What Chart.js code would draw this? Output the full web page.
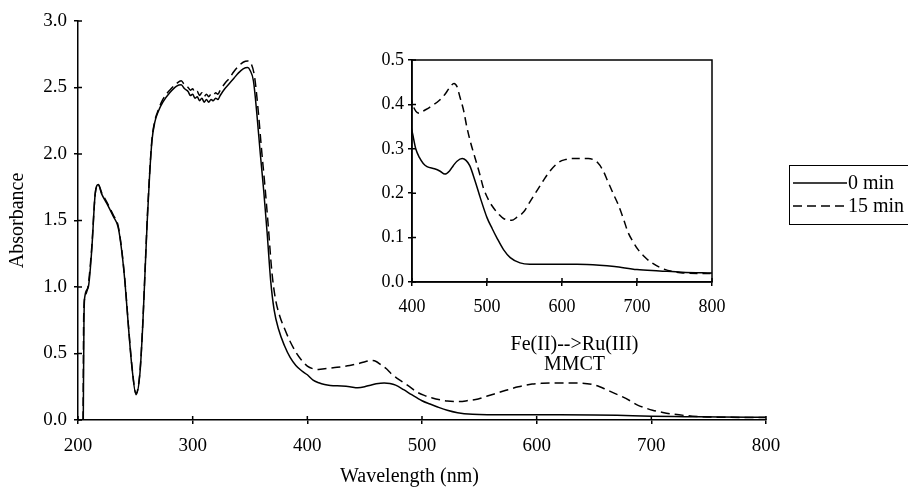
<!DOCTYPE html>
<html>
<head>
<meta charset="utf-8">
<script src="https://cdn.jsdelivr.net/npm/chart.js@4"></script>
<style>
  html, body { margin: 0; padding: 0; background: #fff; overflow: hidden; }
  body { width: 908px; height: 489px; position: relative; font-family: "Liberation Serif", serif; }
  #main { position: absolute; left: 0; top: 0; }
  #inset { position: absolute; left: 330px; top: 40px; }
  #legend { position: absolute; left: 789px; top: 165px; width: 130px; height: 60px; border: 1.5px solid #000; box-sizing: border-box; }
  #legend .row { position: absolute; left: 3px; height: 23px; display: flex; align-items: center; font-size: 20px; color: #000; }
  #legend svg { margin-right: 1px; }
</style>
</head>
<body>
<canvas id="main" width="908" height="489"></canvas>
<canvas id="inset" width="420" height="300"></canvas>
<div id="legend">
  <div class="row" style="top:5px"><svg width="54" height="4"><line x1="0" y1="2" x2="54" y2="2" stroke="#000" stroke-width="1.5"/></svg><span>0 min</span></div>
  <div class="row" style="top:28px"><svg width="54" height="4"><line x1="0" y1="2" x2="54" y2="2" stroke="#000" stroke-width="1.5" stroke-dasharray="9,5"/></svg><span>15 min</span></div>
</div>
<script>
// 0 min spectrum
const wl0 = [204.6,205.2,206,209,212,215,217.7,220.6,225,230.8,235,238,241,244,247,250.6,254,256.4,258.4,260.4,262.5,264.5,267,270,274,280,286,290,293,296,298,300,302,304,306,308,310,312,314,316,318,320,322,324,328,332,336,340,344,348,350,353,356,359,362,365,368,371,375,380,385,390,395,400,405,410,415,420,430,437,444,450,455,460,467,472,477,484,491,500,507,513,522,531,544,557,580,620,650,670,700,730,760,800];
const abs0 = [0,0.75,0.93,1.0,1.28,1.70,1.77,1.70,1.63,1.53,1.45,1.28,1.03,0.70,0.40,0.19,0.35,0.70,1.10,1.50,1.85,2.10,2.24,2.32,2.39,2.46,2.51,2.52,2.49,2.47,2.44,2.45,2.42,2.43,2.40,2.42,2.39,2.41,2.39,2.41,2.40,2.42,2.41,2.44,2.49,2.53,2.57,2.61,2.64,2.65,2.63,2.55,2.30,2.00,1.72,1.40,1.05,0.83,0.68,0.56,0.47,0.41,0.37,0.34,0.30,0.28,0.267,0.26,0.255,0.25,0.243,0.25,0.262,0.272,0.278,0.274,0.262,0.228,0.19,0.145,0.12,0.10,0.073,0.055,0.043,0.04,0.04,0.04,0.038,0.035,0.028,0.025,0.022,0.02];

// 15 min spectrum
const wl15 = [204.4,205,206,209,212,215,217.7,220.6,225,230.8,235,238,241,244,247,250.6,254,256.4,258.4,260.4,262.5,264.5,267,270,274,280,286,290,293,296,298,300,302,304,306,308,310,312,314,316,318,320,322,324,328,332,336,340,344,348,351,354,357,360,363,366,369,372,376,380,385,390,395,400,405,410,415,424,437,445,451,456,460,464,469,473,478,484,490,495,502,509,516,522,533,540,549,557,566,575,584,596,605,613,635,648,655,661,668,675,682,688,695,701,710,719,736,758,800];
const abs15 = [0,0.80,0.92,1.02,1.30,1.70,1.77,1.71,1.64,1.54,1.46,1.29,1.04,0.71,0.41,0.20,0.36,0.71,1.11,1.52,1.86,2.11,2.25,2.33,2.41,2.48,2.53,2.55,2.52,2.50,2.48,2.49,2.46,2.47,2.44,2.46,2.43,2.45,2.43,2.45,2.44,2.46,2.45,2.48,2.53,2.57,2.62,2.66,2.69,2.70,2.68,2.58,2.34,2.04,1.76,1.45,1.12,0.92,0.78,0.69,0.59,0.51,0.45,0.405,0.385,0.38,0.385,0.394,0.41,0.425,0.44,0.447,0.44,0.416,0.385,0.35,0.315,0.28,0.245,0.213,0.185,0.166,0.152,0.143,0.139,0.146,0.158,0.18,0.204,0.228,0.25,0.27,0.276,0.278,0.278,0.268,0.25,0.227,0.20,0.174,0.142,0.112,0.09,0.074,0.057,0.044,0.029,0.021,0.019];

const seriesNames = ['0 min', '15 min'];
const noteLines = ['Fe(II)-->Ru(III)', 'MMCT'];

const FONT = '"Liberation Serif", serif';

function pts(xs, ys) {
    return xs.map((x, i) => ({x: x, y: ys[i]}));
}

function makeDatasets(dash) {
    return [
        { label: seriesNames[0], data: pts(wl0, abs0), borderColor: '#000', borderWidth: 1.5, pointRadius: 0, cubicInterpolationMode: 'monotone', fill: false },
        { label: seriesNames[1], data: pts(wl15, abs15), borderColor: '#000', borderWidth: 1.5, borderDash: dash, pointRadius: 0, cubicInterpolationMode: 'monotone', fill: false }
    ];
}

// tick marks that cross the axis line
const crossTicks = {
    id: 'crossTicks',
    afterDraw(chart) {
        const ctx = chart.ctx;
        const x = chart.scales.x, y = chart.scales.y;
        ctx.save();
        ctx.strokeStyle = '#000';
        ctx.lineWidth = 1.5;
        ctx.beginPath();
        x.ticks.forEach(t => {
            const px = x.getPixelForValue(t.value);
            ctx.moveTo(px, x.top - 4);
            ctx.lineTo(px, x.top);
        });
        y.ticks.forEach(t => {
            const py = y.getPixelForValue(t.value);
            ctx.moveTo(y.right, py);
            ctx.lineTo(y.right + 4, py);
        });
        ctx.stroke();
        ctx.restore();
    }
};

const frame = {
    id: 'frame',
    afterDraw(chart) {
        const a = chart.chartArea;
        const ctx = chart.ctx;
        ctx.save();
        ctx.strokeStyle = '#000';
        ctx.lineWidth = 1.5;
        ctx.strokeRect(a.left, a.top, a.right - a.left, a.bottom - a.top);
        ctx.restore();
    }
};

const note = {
    id: 'note',
    afterDraw(chart) {
        const ctx = chart.ctx;
        const x = chart.scales.x, y = chart.scales.y;
        ctx.save();
        ctx.fillStyle = '#000';
        ctx.font = '20px ' + FONT;
        ctx.textAlign = 'center';
        ctx.textBaseline = 'middle';
        ctx.fillText(noteLines[0], x.getPixelForValue(633), y.getPixelForValue(0.564));
        ctx.fillText(noteLines[1], x.getPixelForValue(633), y.getPixelForValue(0.414));
        ctx.restore();
    }
};

function axisGrid() {
    return { display: true, drawOnChartArea: false, drawTicks: true, tickLength: 4, color: '#000', lineWidth: 1.5 };
}

new Chart(document.getElementById('main'), {
    type: 'line',
    data: { datasets: makeDatasets([9, 5]) },
    options: {
        responsive: false,
        animation: false,
        layout: { padding: { left: 0, top: 21, right: 142, bottom: 0 } },
        plugins: { legend: { display: false }, tooltip: { enabled: false } },
        scales: {
            x: {
                type: 'linear', min: 200, max: 800,
                grid: axisGrid(),
                border: { color: '#000', width: 1.5 },
                ticks: { stepSize: 100, color: '#000', padding: 11, maxRotation: 0, font: { family: FONT, size: 19 } },
                title: { display: true, text: 'Wavelength (nm)\u00a0\u00a0\u00a0\u00a0\u00a0', color: '#000', font: { family: FONT, size: 20 }, padding: { top: 0, bottom: 0 } },
                afterFit(s) { s.height = 69; }
            },
            y: {
                min: 0, max: 3,
                grid: axisGrid(),
                border: { color: '#000', width: 1.5 },
                ticks: { stepSize: 0.5, color: '#000', padding: 7, font: { family: FONT, size: 19 }, callback: v => v.toFixed(1) },
                title: { display: true, text: 'Absorbance', color: '#000', font: { family: FONT, size: 20 }, padding: { top: 6, bottom: 0 } },
                afterFit(s) { s.width = 78; }
            }
        }
    },
    plugins: [crossTicks, note]
});

new Chart(document.getElementById('inset'), {
    type: 'line',
    data: { datasets: makeDatasets([8, 5]) },
    options: {
        responsive: false,
        animation: false,
        layout: { padding: { left: 0, top: 20, right: 38, bottom: 0 } },
        plugins: { legend: { display: false }, tooltip: { enabled: false } },
        scales: {
            x: {
                type: 'linear', min: 400, max: 800,
                grid: axisGrid(),
                border: { color: '#000', width: 1.5 },
                ticks: { stepSize: 100, color: '#000', padding: 10, maxRotation: 0, font: { family: FONT, size: 18 } },
                afterFit(s) { s.height = 58; }
            },
            y: {
                min: 0, max: 0.5,
                grid: axisGrid(),
                border: { color: '#000', width: 1.5 },
                ticks: { stepSize: 0.1, color: '#000', padding: 4, font: { family: FONT, size: 18 }, callback: v => v.toFixed(1) },
                afterFit(s) { s.width = 82; }
            }
        }
    },
    plugins: [crossTicks, frame]
});
</script>
</body>
</html>
